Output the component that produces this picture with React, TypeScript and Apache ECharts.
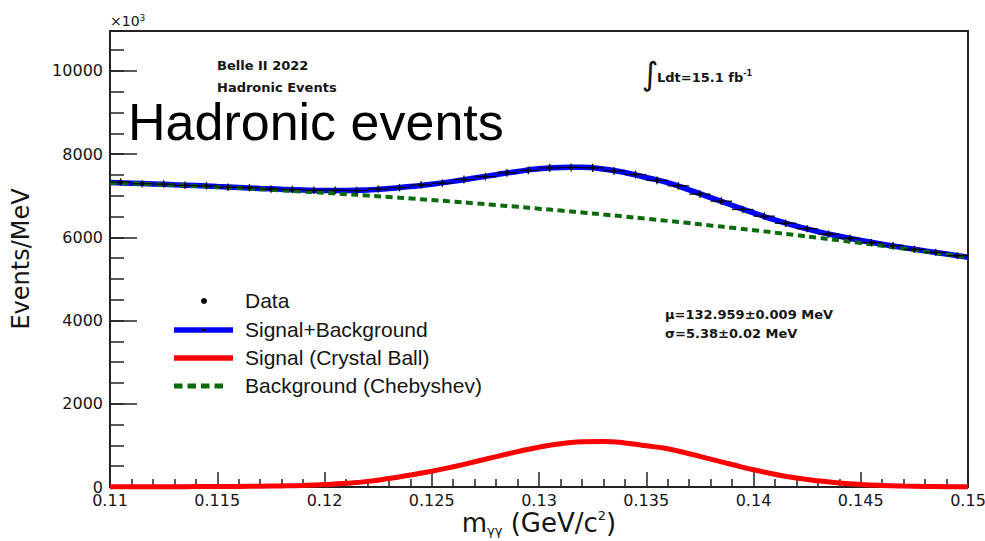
import React, { useEffect, useRef } from "react";
import * as echarts from "echarts";

// Fit curve sampling points (GeV/c^2)
const fitX = [
  0.110, 0.111, 0.112, 0.113, 0.114, 0.115, 0.116, 0.117, 0.118, 0.119,
  0.120, 0.121, 0.122, 0.123, 0.124, 0.125, 0.126, 0.127, 0.128, 0.129,
  0.130, 0.131, 0.132, 0.133, 0.134, 0.135, 0.136, 0.137, 0.138, 0.139,
  0.140, 0.141, 0.142, 0.143, 0.144, 0.145, 0.146, 0.147, 0.148, 0.149,
  0.150,
];

// Background (Chebyshev) Events/MeV
const backgroundFit = [
  7315, 7297, 7277, 7256, 7234, 7210, 7185, 7158, 7130, 7101,
  7071, 7039, 7005, 6971, 6935, 6897, 6859, 6819, 6777, 6734,
  6690, 6644, 6598, 6549, 6500, 6449, 6396, 6343, 6287, 6231,
  6173, 6114, 6053, 5992, 5928, 5864, 5798, 5730, 5661, 5591,
  5520,
];

// Signal (Crystal Ball) Events/MeV
const signalFit = [
  5, 6, 7, 8, 10, 12, 15, 19, 26, 38,
  58, 89, 135, 205, 290, 380, 487, 606, 730, 850,
  957, 1038, 1085, 1093, 1060, 990, 920, 800, 670, 540,
  415, 305, 215, 148, 98, 62, 38, 23, 14, 8,
  4,
];

// Signal + Background Events/MeV
const totalFit = [
  7320, 7303, 7284, 7264, 7244, 7222, 7200, 7177, 7156, 7139,
  7129, 7128, 7140, 7176, 7225, 7277, 7346, 7425, 7507, 7584,
  7647, 7682, 7683, 7642, 7560, 7439, 7316, 7143, 6957, 6771,
  6588, 6419, 6268, 6140, 6026, 5926, 5836, 5753, 5675, 5599,
  5524,
];

// Data histogram bins
const binCenters = [
  0.1105, 0.1115, 0.1125, 0.1135, 0.1145, 0.1155, 0.1165, 0.1175, 0.1185, 0.1195,
  0.1205, 0.1215, 0.1225, 0.1235, 0.1245, 0.1255, 0.1265, 0.1275, 0.1285, 0.1295,
  0.1305, 0.1315, 0.1325, 0.1335, 0.1345, 0.1355, 0.1365, 0.1375, 0.1385, 0.1395,
  0.1405, 0.1415, 0.1425, 0.1435, 0.1445, 0.1455, 0.1465, 0.1475, 0.1485, 0.1495,
];
const dataValues = [
  7330, 7290, 7280, 7250, 7240, 7205, 7195, 7160, 7150, 7130,
  7135, 7125, 7160, 7195, 7260, 7305, 7390, 7460, 7550, 7610,
  7670, 7680, 7670, 7595, 7510, 7370, 7240, 7040, 6870, 6670,
  6510, 6340, 6210, 6080, 5980, 5875, 5800, 5710, 5640, 5560,
];
const dataErrors = [
  90, 90, 90, 90, 90, 90, 90, 90, 90, 90,
  90, 90, 90, 90, 92, 92, 94, 94, 96, 96,
  97, 97, 97, 96, 96, 95, 95, 94, 93, 92,
  91, 90, 89, 88, 88, 87, 87, 86, 86, 85,
];

const BIN_HALF = 0.0005;
const DV = "'DejaVu Sans', sans-serif";
const LS = "'Liberation Sans', Arial, sans-serif";
const INK = "#151515";

export default function App() {
  const ref = useRef<HTMLDivElement>(null);

  useEffect(() => {
    document.body.style.margin = "0";
    if (!ref.current) return;
    const chart = echarts.init(ref.current, undefined, { renderer: "svg" });

    const renderData = (params: any, api: any) => {
      const x = api.value(0);
      const y = api.value(1);
      const e = api.value(2);
      const p = api.coord([x, y]);
      const top = api.coord([x, y + e]);
      const bot = api.coord([x, y - e]);
      const l = api.coord([x - BIN_HALF, y]);
      const r = api.coord([x + BIN_HALF, y]);
      const st = { stroke: "#000", lineWidth: 1.2 };
      return {
        type: "group",
        children: [
          { type: "line", shape: { x1: p[0], y1: top[1], x2: p[0], y2: bot[1] }, style: st },
          { type: "line", shape: { x1: l[0], y1: p[1], x2: r[0], y2: p[1] }, style: st },
          { type: "circle", shape: { cx: p[0], cy: p[1], r: 2 }, style: { fill: "#000" } },
        ],
      };
    };

    const txt = (x: number, y: number, text: string, extra: any = {}) => ({
      type: "text",
      x,
      y,
      z: 10,
      style: {
        text,
        fill: INK,
        align: "left",
        verticalAlign: "middle",
        fontFamily: DV,
        fontSize: 13,
        fontWeight: "bold",
        ...extra,
      },
    });

    const legX1 = 174;
    const legX2 = 233;
    const legTextX = 245;

    const option: any = {
      animation: false,
      backgroundColor: "#ffffff",
      grid: {
        left: 110,
        right: 17,
        top: 31,
        bottom: 54,
        containLabel: false,
        outerBoundsMode: "none",
        show: true,
        borderColor: "#222",
        borderWidth: 2,
        backgroundColor: "transparent",
      },
      xAxis: {
        type: "value",
        min: 0.11,
        max: 0.15,
        interval: 0.005,
        axisLine: { show: true, onZero: false, lineStyle: { color: "#222", width: 2 } },
        axisTick: { show: true, inside: true, length: 15, lineStyle: { color: "#222", width: 1.5 } },
        minorTick: { show: true, splitNumber: 5, length: 8, lineStyle: { color: "#222", width: 1.5 } },
        splitLine: { show: false },
        minorSplitLine: { show: false },
        axisLabel: { fontFamily: DV, fontSize: 16, color: INK, margin: 5 },
        name: "{a|m}{b|γγ}{a| (GeV/c}{c|2}{a|)}",
        nameLocation: "middle",
        nameGap: 22,
        nameMoveOverlap: false,
        nameTextStyle: {
          rich: {
            a: { fontFamily: DV, fontSize: 26, color: INK, lineHeight: 28 },
            b: { fontFamily: DV, fontSize: 13, color: INK, lineHeight: 13, verticalAlign: "bottom" },
            c: { fontFamily: DV, fontSize: 13, color: INK, lineHeight: 13, verticalAlign: "top" },
          },
        },
      },
      yAxis: [
        {
          type: "value",
          min: 0,
          max: 10960,
          interval: 2000,
          axisLine: { show: true, lineStyle: { color: "#222", width: 2 } },
          axisTick: { show: true, inside: true, length: 27, lineStyle: { color: "#222", width: 1.5 } },
          splitLine: { show: false },
          axisLabel: {
            fontFamily: DV,
            fontSize: 16,
            color: INK,
            margin: 7,
            showMaxLabel: false,
            formatter: (v: number) => String(v),
          },
          name: "Events/MeV",
          nameLocation: "middle",
          nameGap: 77,
          nameRotate: 90,
          nameTextStyle: { fontFamily: DV, fontSize: 24, color: INK },
        },
        {
          type: "value",
          position: "left",
          min: 0,
          max: 10960,
          interval: 500,
          axisLine: { show: false },
          axisTick: { show: true, inside: true, length: 14, lineStyle: { color: "#222", width: 1.5 } },
          splitLine: { show: false },
          axisLabel: { show: false },
        },
      ],
      series: [
        {
          name: "Signal+Background",
          type: "line",
          data: fitX.map((x, i) => [x, totalFit[i]]),
          smooth: true,
          showSymbol: false,
          lineStyle: { color: "#0000ff", width: 5.5 },
          z: 2,
        },
        {
          name: "Signal (Crystal Ball)",
          type: "line",
          data: fitX.map((x, i) => [x, signalFit[i]]),
          smooth: true,
          showSymbol: false,
          clip: false,
          lineStyle: { color: "#ff0000", width: 5 },
          z: 2,
        },
        {
          name: "Background (Chebyshev)",
          type: "line",
          data: fitX.map((x, i) => [x, backgroundFit[i]]),
          smooth: true,
          showSymbol: false,
          lineStyle: { color: "#0b6b0b", width: 4, type: [7, 4.5] },
          z: 3,
        },
        {
          name: "Data",
          type: "custom",
          renderItem: renderData,
          data: binCenters.map((x, i) => [x, dataValues[i], dataErrors[i]]),
          encode: { x: 0, y: 1 },
          z: 4,
        },
      ],
      graphic: [
        // cut-off glyphs of a larger title above the picture
        txt(205, -44, "(", { fontFamily: LS, fontSize: 52, fontWeight: "normal", fill: "#000" }),
        txt(266, -44, "y", { fontFamily: LS, fontSize: 52, fontWeight: "normal", fill: "#000" }),
        txt(583, -44, ")", { fontFamily: LS, fontSize: 52, fontWeight: "normal", fill: "#000" }),
        // exponent
        {
          type: "text",
          x: 110,
          y: 21,
          z: 10,
          style: {
            text: "{a|×10}{b|3}",
            align: "left",
            verticalAlign: "middle",
            rich: {
              a: { fontFamily: DV, fontSize: 14, fill: INK, lineHeight: 16 },
              b: { fontFamily: DV, fontSize: 9, fill: INK, lineHeight: 9, verticalAlign: "top" },
            },
          },
        },
        txt(217, 65, "Belle II 2022"),
        txt(217, 87, "Hadronic Events"),
        txt(128, 122, "Hadronic events", { fontFamily: LS, fontSize: 52, fontWeight: "normal", fill: "#000" }),
        txt(650, 74, "∫", { fontSize: 32, fontWeight: "normal", align: "center" }),
        {
          type: "text",
          x: 657,
          y: 77,
          z: 10,
          style: {
            text: "{t|Ldt=15.1 fb}{s|-1}",
            align: "left",
            verticalAlign: "middle",
            rich: {
              t: { fontFamily: DV, fontSize: 13, fontWeight: "bold", fill: INK, lineHeight: 16 },
              s: { fontFamily: DV, fontSize: 8, fontWeight: "bold", fill: INK, lineHeight: 8, verticalAlign: "top" },
            },
          },
        },
        txt(665, 314, "μ=132.959±0.009 MeV"),
        txt(665, 333, "σ=5.38±0.02 MeV"),
        // legend
        { type: "circle", z: 10, shape: { cx: 204, cy: 301, r: 3 }, style: { fill: "#000" } },
        txt(legTextX, 300, "Data", { fontFamily: LS, fontSize: 21, fontWeight: "normal" }),
        { type: "line", z: 10, shape: { x1: legX1, y1: 330, x2: legX2, y2: 330 }, style: { stroke: "#0000ff", lineWidth: 5.5 } },
        { type: "rect", z: 11, shape: { x: 202, y: 329, width: 3, height: 2 }, style: { fill: "#000" } },
        txt(legTextX, 329, "Signal+Background", { fontFamily: LS, fontSize: 21, fontWeight: "normal" }),
        { type: "line", z: 10, shape: { x1: legX1, y1: 358, x2: legX2, y2: 358 }, style: { stroke: "#ff0000", lineWidth: 5.5 } },
        txt(legTextX, 357, "Signal (Crystal Ball)", { fontFamily: LS, fontSize: 21, fontWeight: "normal" }),
        { type: "line", z: 10, shape: { x1: legX1, y1: 386, x2: 228, y2: 386 }, style: { stroke: "#0b6b0b", lineWidth: 5, lineDash: [8.5, 5] } },
        txt(legTextX, 385, "Background (Chebyshev)", { fontFamily: LS, fontSize: 21, fontWeight: "normal" }),
      ],
    };

    chart.setOption(option);
    return () => chart.dispose();
  }, []);

  return (
    <div
      ref={ref}
      style={{ width: 985, height: 541, position: "fixed", left: 0, top: 0, background: "#fff" }}
    />
  );
}
